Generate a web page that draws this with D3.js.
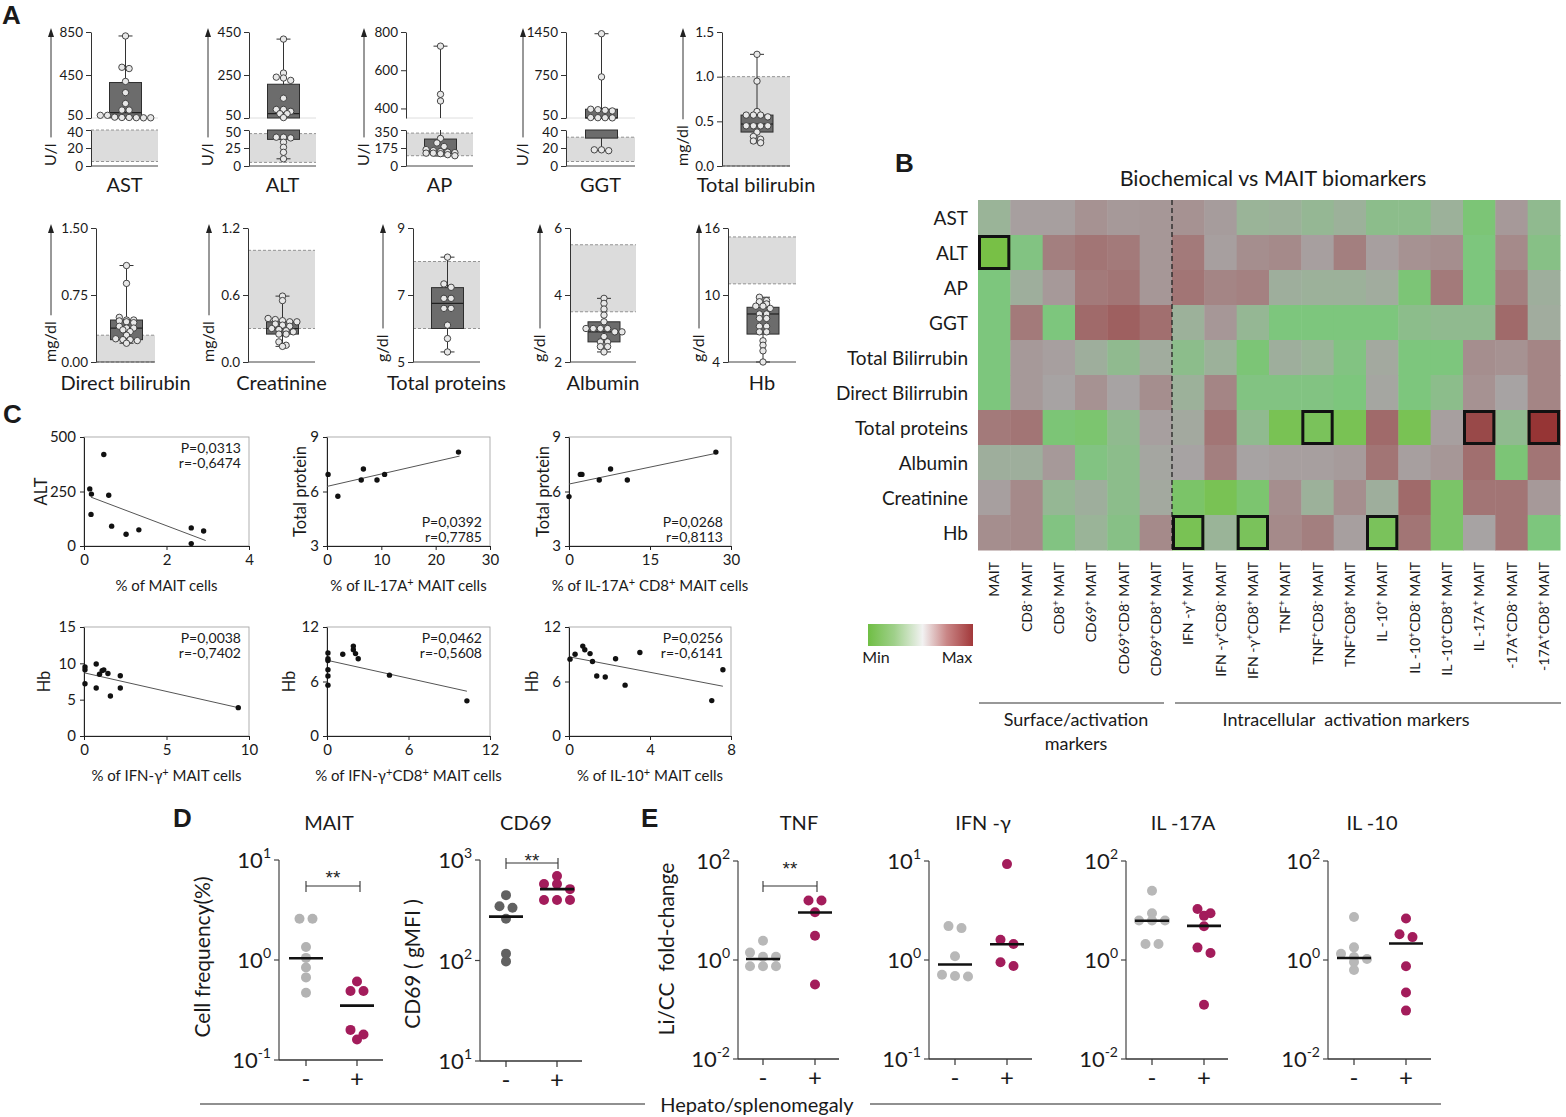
<!DOCTYPE html>
<html><head><meta charset="utf-8">
<script src="https://cdn.jsdelivr.net/npm/d3@7"></script>
<style>
body{margin:0;background:#fff;}
svg text{font-family:Lato,"Open Sans",sans-serif;fill:#1a1a1a;}
</style></head><body>
<svg id="fig" width="1566" height="1117" xmlns="http://www.w3.org/2000/svg"></svg>
<script>
// ================= DATA =================
// Panel A
const biochemNames = ["AST","ALT","AP","GGT","Total bilirubin","Direct bilirubin","Creatinine","Total proteins","Albumin","Hb"];
const biochemUnits = ["U/l","U/l","U/l","U/l","mg/dl","mg/dl","mg/dl","g/dl","g/dl","g/dl"];
const biochemUpperDomain = [[50,850],[50,450],[350,800],[50,1450],null,null,null,null,null,null];
const biochemUpperTicks = [[50,450,850],[50,250,450],[400,600,800],[50,750,1450],null,null,null,null,null,null];
const biochemLowerDomain = [[0,40],[0,50],[0,350],[0,40],[0,1.5],[0,1.5],[0,1.2],[5,9],[2,6],[4,16]];
const biochemLowerTicks = [[0,20,40],[0,25,50],[0,175,350],[0,20,40],[0,0.5,1,1.5],[0,0.75,1.5],[0,0.6,1.2],[5,7,9],[2,4,6],[4,10,16]];
const biochemTickFormat = ["d","d","d","d",".1f",".2f",".1f","d","d","d"];
const biochemRefRange = [[5,40],[5,45],[100,320],[5,32],[0,1],[0,0.3],[0.3,1.0],[6,8],[3.5,5.5],[11,15.2]];
// min, q1, median, q3, max
const biochemBox = [
  [50,52,100,380,813],
  [10,37,70,207,417],
  [97,120,135,262,726],
  [17,31,52,193,1422],
  [0.26,0.38,0.47,0.57,1.25],
  [0.21,0.25,0.38,0.47,1.08],
  [0.14,0.25,0.30,0.36,0.59],
  [5.3,6.0,6.75,7.22,8.13],
  [2.3,2.6,2.9,3.2,3.9],
  [4.0,6.5,8.3,8.9,9.8]];
const biochemValues = [
  [813,522,510,390,286,185,124,124,75,75,58,55,55,53,52,52],
  [417,259,240,236,225,142,90,90,81,70,70,52,40,40,39,33,26,19,10],
  [726,474,439,268,224,190,160,150,140,135,130,125,125,120,110,100],
  [1422,719,193,185,175,165,58,55,55,52,18,18,17],
  [1.25,0.95,0.61,0.57,0.57,0.57,0.55,0.45,0.45,0.45,0.45,0.38,0.33,0.30,0.28,0.26],
  [1.08,0.88,0.50,0.47,0.47,0.46,0.45,0.44,0.40,0.38,0.38,0.36,0.34,0.30,0.26,0.25,0.25,0.24,0.21],
  [0.59,0.55,0.39,0.38,0.37,0.36,0.36,0.34,0.33,0.32,0.30,0.29,0.28,0.27,0.25,0.25,0.18,0.15,0.14],
  [8.13,7.33,7.23,6.9,6.9,6.6,6.6,6.1,5.7,5.3],
  [3.9,3.75,3.58,3.4,3.2,3.0,3.0,3.0,3.0,2.9,2.9,2.76,2.6,2.6,2.46,2.46,2.3],
  [9.8,9.5,9.4,9.2,9.0,9.0,8.8,8.3,8.3,7.9,7.9,7.2,7.2,6.7,6.7,5.9,5.5,5.0,4.0]];

// Panel B
const heatTitle = "Biochemical vs MAIT biomarkers";
const heatRows = ["AST","ALT","AP","GGT","Total Bilirrubin","Direct Bilirrubin","Total proteins","Albumin","Creatinine","Hb"];
const heatCols = ["MAIT","CD8{-} MAIT","CD8{+} MAIT","CD69{+} MAIT","CD69{+}CD8{-} MAIT","CD69{+}CD8{+} MAIT",
  "IFN -γ{+} MAIT","IFN -γ{+}CD8{-} MAIT","IFN -γ{+}CD8{+} MAIT","TNF{+} MAIT","TNF{+}CD8{-} MAIT","TNF{+}CD8{+} MAIT",
  "IL -10{+} MAIT","IL -10{+}CD8{-} MAIT","IL -10{+}CD8{+} MAIT","IL -17A{+} MAIT","-17A{+}CD8{-} MAIT","-17A{+}CD8{+} MAIT"];
const heatValues = [
  [-0.3,0.05,0.05,0.2,0.12,0.15,0.2,0.08,-0.3,-0.25,-0.35,-0.25,-0.45,-0.45,-0.25,-0.65,0.12,-0.4],
  [-1.0,-0.55,0.4,0.5,0.45,0.15,0.45,0.05,0.25,0.3,0.05,0.4,0.05,0.2,0.25,-0.6,0.3,-0.5],
  [-0.6,-0.2,0.12,0.45,0.5,0.15,0.5,0.35,0.38,-0.2,-0.25,-0.25,-0.15,-0.65,0.45,-0.6,0.4,-0.2],
  [-0.6,0.45,-0.6,0.6,0.68,0.55,-0.25,0.15,-0.35,-0.6,-0.6,-0.6,-0.6,-0.45,-0.4,-0.4,0.6,-0.15],
  [-0.6,0.12,0.05,-0.2,-0.4,-0.15,-0.45,-0.25,-0.65,-0.2,-0.3,-0.55,-0.1,-0.6,-0.6,0.25,0.2,0.35],
  [-0.6,0.12,0.0,0.2,0.0,0.25,-0.25,0.35,-0.55,-0.55,-0.55,-0.6,-0.05,-0.6,-0.45,0.2,0.0,0.35],
  [0.45,0.5,-0.65,-0.7,-0.4,0.05,-0.1,0.5,-0.4,-0.9,-0.85,-0.9,0.6,-0.9,0.05,0.85,-0.4,1.0],
  [-0.2,-0.2,0.12,-0.55,-0.45,-0.05,0.0,0.4,0.0,0.05,0.05,0.1,0.5,0.05,0.15,0.55,-0.65,0.5],
  [0.05,0.3,-0.35,-0.2,-0.45,-0.1,-0.75,-0.9,-0.7,0.25,-0.25,0.25,-0.2,0.6,-0.75,0.5,0.5,0.12],
  [0.25,0.3,-0.55,-0.3,-0.5,0.3,-0.9,-0.3,-0.85,0.3,0.4,0.05,-0.85,0.5,-0.75,0.0,0.5,-0.6]];
const heatHighlights = [[1,0],[6,10],[6,15],[6,17],[9,6],[9,8],[9,12]]; // [row, col]
const heatGroups = [["Surface/activation","markers"],["Intracellular  activation markers"]];

// Panel C
const corrYLabels = ["ALT","Total protein","Total protein","Hb","Hb","Hb"];
const corrXLabels = ["% of MAIT cells","% of IL-17A{+} MAIT cells","% of IL-17A{+} CD8{+} MAIT cells",
  "% of IFN-γ{+} MAIT cells","% of IFN-γ{+}CD8{+} MAIT cells","% of IL-10{+} MAIT cells"];
const corrXDomains = [[0,4],[0,30],[0,30],[0,10],[0,12],[0,8]];
const corrXTicks = [[0,2,4],[0,10,20,30],[0,15,30],[0,5,10],[0,6,12],[0,4,8]];
const corrYDomains = [[0,500],[3,9],[3,9],[0,15],[0,12],[0,12]];
const corrYTicks = [[0,250,500],[3,6,9],[3,6,9],[0,5,10,15],[0,6,12],[0,6,12]];
const corrX = [
  [0.14,0.18,0.17,0.48,0.6,0.67,1.02,1.33,2.6,2.6,2.9],
  [0.2,2.0,6.3,6.7,9.2,10.6,24.2],
  [0,2.1,2.4,5.6,7.7,10.8,27.2],
  [0.06,0.06,0.06,0.74,0.74,0.94,1.1,1.2,1.45,1.6,2.2,2.2,9.35],
  [0.07,0.07,0.07,0.07,0.07,0.07,1.16,1.94,1.94,2.1,2.3,4.6,10.3],
  [0.05,0.3,0.68,0.78,1.04,1.16,1.37,1.79,2.3,2.77,3.5,7.05,7.6]];
const corrY = [
  [262,238,145,420,233,91,54,74,83,11,69],
  [6.94,5.74,6.63,7.24,6.63,6.94,8.17],
  [5.72,6.94,6.94,6.63,7.24,6.63,8.17],
  [9.5,9.1,7.2,9.9,6.6,8.5,9.0,9.1,8.6,5.5,8.3,6.6,3.9],
  [9.14,8.5,8.3,7.3,6.6,5.6,9.0,9.9,9.5,9.07,8.5,6.7,3.87],
  [8.46,9.0,9.9,9.5,9.07,8.2,6.6,6.5,8.5,5.6,9.2,3.9,7.3]];
const corrFit = [
  [[0.17,224],[2.95,25]],
  [[0,6.28],[24.4,7.95]],
  [[0,6.41],[27.2,8.1]],
  [[0,8.7],[9.35,3.9]],
  [[0,8.34],[10.3,4.93]],
  [[0.05,8.7],[7.6,5.48]]];
const corrP = ["P=0,0313","P=0,0392","P=0,0268","P=0,0038","P=0,0462","P=0,0256"];
const corrR = ["r=-0,6474","r=0,7785","r=0,8113","r=-0,7402","r=-0,5608","r=-0,6141"];

// Panels D & E
const dotTitles = ["MAIT","CD69","TNF","IFN -γ","IL -17A","IL -10"];
const dotYLabels = ["Cell frequency(%)","CD69 ( gMFI )","Li/CC\u00a0 fold-change"];
const dotDomains = [[0.1,10],[10,1000],[0.01,100],[0.1,10],[0.01,100],[0.01,100]];
const dotTickExps = [[-1,0,1],[1,2,3],[-2,0,2],[-1,0,1],[-2,0,2],[-2,0,2]];
const dotGroups = ["-","+"];
const dotNeg = [[2.59,2.59,1.35,1.05,0.84,0.67,0.47],[447,346,335,260,117,98],[2.44,1.41,1.16,1.16,0.75,0.75,0.75],
  [2.1,2.2,1.09,0.68,0.71,0.69],[25,8.8,6.3,6.3,6.3,2.1,2.1],[7.4,1.8,1.34,1.15,1.05,0.91,0.63]];
const dotPos = [[0.61,0.49,0.49,0.20,0.18,0.16],[692,577,577,513,400,400,400],[15.9,15.9,9.2,3.1,0.32],
  [9.3,1.45,1.6,0.87,0.95],[10.7,7.8,8.8,4.8,1.78,1.39,0.125],[6.9,2.9,3.3,0.75,0.22,0.095]];
const dotMedNeg = [1.04,273,1.05,0.9,6.2,1.1];
const dotMedPos = [0.35,513,9.1,1.44,4.9,2.15];
const dotSignif = ["**","**","**","","",""];
const bottomLabel = "Hepato/splenomegaly";

// ================= DRAWING =================
const svg = d3.select("#fig");

function richText(sel, str, supSize, up) {
  const parts = str.split(/(\{[^}]*\})/).filter(s => s.length);
  let raised = false;
  parts.forEach(p => {
    if (p[0] === "{") {
      sel.append("tspan").attr("font-size", supSize).attr("dy", raised ? 0 : -up).text(p.slice(1, -1));
      raised = true;
    } else {
      const t = sel.append("tspan").text(p);
      if (raised) { t.attr("dy", up); raised = false; }
    }
  });
  return sel;
}

function groupOffsets(ys, thresh, spacing) {
  const idx = d3.range(ys.length).sort((a, b) => ys[a] - ys[b]);
  const off = new Array(ys.length).fill(0);
  let g = [];
  const flush = () => { g.forEach((i, k) => off[i] = (k - (g.length - 1) / 2) * spacing); g = []; };
  idx.forEach(i => { if (g.length && ys[i] - ys[g[0]] > thresh) flush(); g.push(i); });
  flush();
  return off;
}

// Panel letters
[["A",2,24],["B",895,172],["C",3,423],["D",173,827],["E",641,827]].forEach(([t,x,y]) =>
  svg.append("text").attr("x",x).attr("y",y).attr("font-size",26).attr("font-weight","bold")
    .style("font-family","'Liberation Sans',Arial,sans-serif").text(t));

// ---------- Panel A ----------
const aAxisX = [91,249,406,566,722,96,248,413,570,728];
const aRight = [158,316,473,635,790,155,315,480,636,796];
const aArrowX = [51,208,364,523,683,51,209,383,540,699];

biochemNames.forEach((name, i) => {
  const top = i < 5 ? 32 : 228, bot = i < 5 ? 166 : 362;
  const ax = aAxisX[i], rx = aRight[i], cx = (ax + rx) / 2 + 1;
  const g = svg.append("g");
  const up = biochemUpperDomain[i], lo = biochemLowerDomain[i];
  let sl, su = null, yOf;
  if (up) {
    su = d3.scaleLinear().domain(up).range([top + 86, top]);
    sl = d3.scaleLinear().domain(lo).range([bot, top + 98]);
    yOf = v => v >= up[0] ? su(v) : sl(Math.min(v, lo[1]));
  } else {
    sl = d3.scaleLinear().domain(lo).range([bot, top]);
    yOf = v => sl(v);
  }
  const segs = (a, b) => {
    if (!up) return [[sl(a), sl(b)]];
    const s = [];
    if (b >= up[0]) s.push([su(Math.max(a, up[0])), su(b)]);
    if (a < up[0]) s.push([sl(a), sl(Math.min(b, lo[1]))]);
    return s;
  };
  const rr = biochemRefRange[i];
  const yb1 = sl(rr[1]), yb0 = sl(rr[0]);
  g.append("rect").attr("x", ax).attr("y", yb1).attr("width", rx - ax).attr("height", yb0 - yb1).attr("fill", "#dcdcdc");
  [yb1, yb0].forEach(yy => g.append("line").attr("x1", ax).attr("x2", rx).attr("y1", yy).attr("y2", yy)
    .attr("stroke", "#8a8a8a").attr("stroke-width", 0.9).attr("stroke-dasharray", "3,2"));
  if (up) g.append("line").attr("x1", ax).attr("x2", rx).attr("y1", top + 86).attr("y2", top + 86)
    .attr("stroke", "#dedede").attr("stroke-width", 1);
  const fmt = d3.format(biochemTickFormat[i]);
  const styleAxis = (sel, nudge) => {
    sel.selectAll("path").attr("stroke", "#333");
    sel.selectAll("line").attr("stroke", "#333");
    sel.selectAll("text").attr("font-size", 13.5).attr("fill", "#1a1a1a").style("font-family", "Lato,sans-serif");
    if (nudge) sel.selectAll(".tick").filter(d => d === nudge.v).select("text").attr("y", nudge.dy);
  };
  g.append("g").attr("transform", `translate(${ax},0)`)
    .call(d3.axisLeft(sl).tickValues(biochemLowerTicks[i]).tickFormat(fmt).tickSize(5).tickSizeOuter(0).tickPadding(3))
    .call(sel => styleAxis(sel, up ? {v: lo[1], dy: 2.5} : null));
  if (up) g.append("g").attr("transform", `translate(${ax},0)`)
    .call(d3.axisLeft(su).tickValues(biochemUpperTicks[i]).tickFormat(fmt).tickSize(5).tickSizeOuter(0).tickPadding(3))
    .call(sel => styleAxis(sel, {v: up[0], dy: -2.5}));
  g.append("line").attr("x1", ax).attr("x2", rx).attr("y1", bot).attr("y2", bot).attr("stroke", "#444").attr("stroke-width", 1);
  const b = biochemBox[i];
  segs(b[0], b[4]).forEach(([y1, y2]) => g.append("line").attr("x1", cx).attr("x2", cx).attr("y1", y1).attr("y2", y2)
    .attr("stroke", "#333").attr("stroke-width", 1));
  [b[0], b[4]].forEach(v => g.append("line").attr("x1", cx - 7).attr("x2", cx + 7).attr("y1", yOf(v)).attr("y2", yOf(v))
    .attr("stroke", "#333").attr("stroke-width", 1));
  segs(b[1], b[3]).forEach(([y1, y2]) => g.append("rect").attr("x", cx - 16).attr("width", 32)
    .attr("y", Math.min(y1, y2)).attr("height", Math.abs(y1 - y2)).attr("fill", "#6c6c6c").attr("stroke", "#2e2e2e").attr("stroke-width", 1));
  g.append("line").attr("x1", cx - 16).attr("x2", cx + 16).attr("y1", yOf(b[2])).attr("y2", yOf(b[2])).attr("stroke", "#222").attr("stroke-width", 1.2);
  const ys = biochemValues[i].map(yOf);
  const offs = groupOffsets(ys, 3.5, 7.2);
  g.selectAll("circle.pt").data(biochemValues[i]).join("circle").attr("class", "pt")
    .attr("cx", (d, k) => cx + offs[k]).attr("cy", (d, k) => ys[k]).attr("r", 3.2)
    .attr("fill", "#e8e8e8").attr("stroke", "#333").attr("stroke-width", 0.9);
  g.append("text").attr("x", (ax + rx) / 2).attr("y", i < 5 ? 192 : 390).attr("text-anchor", "middle").attr("font-size", 20).text(name);
  const ut = g.append("text").attr("transform", `translate(${aArrowX[i] + 5},${bot}) rotate(-90)`).attr("font-size", 16).text(biochemUnits[i]);
  const len = ut.node().getComputedTextLength();
  const ay2 = bot - len - 6, ay1 = top - 2;
  g.append("line").attr("x1", aArrowX[i]).attr("x2", aArrowX[i]).attr("y1", ay1 + 6).attr("y2", ay2).attr("stroke", "#333").attr("stroke-width", 1);
  g.append("path").attr("d", `M${aArrowX[i] - 3},${ay1 + 7}L${aArrowX[i]},${ay1 - 2}L${aArrowX[i] + 3},${ay1 + 7}Z`).attr("fill", "#222");
});

// ---------- Panel B ----------
{
  const g = svg.append("g");
  const hx = d3.scaleBand().domain(d3.range(heatCols.length)).range([978, 1560]);
  const hy = d3.scaleBand().domain(d3.range(heatRows.length)).range([200, 550]);
  const col = d3.scaleLinear().domain([-1, -0.6, -0.3, 0, 0.3, 0.6, 0.8, 1])
    .range(["#78c046", "#7dc67d", "#9ab498", "#a7a3a3", "#a58a8a", "#a06a6a", "#9a5050", "#963535"]);
  heatValues.forEach((row, r) => row.forEach((v, c) =>
    g.append("rect").attr("x", hx(c)).attr("y", hy(r)).attr("width", hx.bandwidth() + 0.5).attr("height", hy.bandwidth() + 0.5).attr("fill", col(v))));
  g.append("line").attr("x1", hx(6)).attr("x2", hx(6)).attr("y1", 200).attr("y2", 550)
    .attr("stroke", "#222").attr("stroke-width", 1.3).attr("stroke-dasharray", "5,3");
  heatHighlights.forEach(([r, c]) => g.append("rect").attr("x", hx(c) + 1.5).attr("y", hy(r) + 1.5)
    .attr("width", hx.bandwidth() - 3).attr("height", hy.bandwidth() - 3).attr("fill", "none").attr("stroke", "#111").attr("stroke-width", 3));
  heatRows.forEach((t, r) => g.append("text").attr("x", 968).attr("y", hy(r) + hy.bandwidth() / 2 + 7)
    .attr("text-anchor", "end").attr("font-size", 19).text(t));
  heatCols.forEach((t, c) => {
    const tx = g.append("text").attr("transform", `translate(${hx(c) + hx.bandwidth() / 2 + 5},562) rotate(-90)`)
      .attr("text-anchor", "end").attr("font-size", 14);
    richText(tx, t, 10, 5);
  });
  g.append("text").attr("x", 1273).attr("y", 186).attr("text-anchor", "middle").attr("font-size", 21.5).text(heatTitle);
  const defs = svg.append("defs");
  const lg = defs.append("linearGradient").attr("id", "lg");
  [["0%", "#6fbe44"], ["25%", "#9fd08a"], ["52%", "#f2f2f2"], ["75%", "#c98686"], ["100%", "#a2383a"]]
    .forEach(([o, c]) => lg.append("stop").attr("offset", o).attr("stop-color", c));
  g.append("rect").attr("x", 868).attr("y", 624).attr("width", 105).attr("height", 22).attr("fill", "url(#lg)");
  g.append("text").attr("x", 876).attr("y", 663).attr("text-anchor", "middle").attr("font-size", 16).text("Min");
  g.append("text").attr("x", 957).attr("y", 663).attr("text-anchor", "middle").attr("font-size", 16).text("Max");
  const gl = [[979, 1164], [1175, 1561]];
  heatGroups.forEach((lines, k) => {
    g.append("line").attr("x1", gl[k][0]).attr("x2", gl[k][1]).attr("y1", 703).attr("y2", 703).attr("stroke", "#333").attr("stroke-width", 1.2);
    const cxx = k === 0 ? 1076 : 1346;
    lines.forEach((ln, j) => g.append("text").attr("x", cxx).attr("y", 726 + j * 24).attr("text-anchor", "middle")
      .attr("font-size", 18).style("white-space", "pre").text(ln));
  });
}

// ---------- Panel C ----------
const cX = [[84,249],[327,490],[569,731],[84,249],[327,490],[569,731]];
const cYr = [[437,546],[437,546],[437,546],[627,736],[627,736],[627,736]];
const cYlabX = [41,300,543,44,289,532];
corrYLabels.forEach((lab, i) => {
  const g = svg.append("g");
  const x = d3.scaleLinear().domain(corrXDomains[i]).range(cX[i]);
  const y = d3.scaleLinear().domain(corrYDomains[i]).range([cYr[i][1], cYr[i][0]]);
  g.append("rect").attr("x", cX[i][0]).attr("y", cYr[i][0]).attr("width", cX[i][1] - cX[i][0]).attr("height", cYr[i][1] - cYr[i][0])
    .attr("fill", "none").attr("stroke", "#a6a6a6").attr("stroke-width", 0.9);
  const st = sel => {
    sel.selectAll("path").attr("stroke", "#222");
    sel.selectAll("line").attr("stroke", "#222");
    sel.selectAll("text").attr("font-size", 15).attr("fill", "#1a1a1a").style("font-family", "Lato,sans-serif");
  };
  g.append("g").attr("transform", `translate(0,${cYr[i][1]})`)
    .call(d3.axisBottom(x).tickValues(corrXTicks[i]).tickFormat(d3.format("d")).tickSize(4).tickSizeOuter(0).tickPadding(4)).call(st);
  g.append("g").attr("transform", `translate(${cX[i][0]},0)`)
    .call(d3.axisLeft(y).tickValues(corrYTicks[i]).tickFormat(d3.format("d")).tickSize(4).tickSizeOuter(0).tickPadding(4)).call(st);
  const f = corrFit[i];
  g.append("line").attr("x1", x(f[0][0])).attr("y1", y(f[0][1])).attr("x2", x(f[1][0])).attr("y2", y(f[1][1]))
    .attr("stroke", "#555").attr("stroke-width", 1);
  g.selectAll("circle").data(corrX[i]).join("circle").attr("cx", d => x(d)).attr("cy", (d, k) => y(corrY[i][k]))
    .attr("r", 2.7).attr("fill", "#111");
  const bottomStats = (i === 1 || i === 2);
  const py = bottomStats ? cYr[i][1] - 19 : cYr[i][0] + 16;
  g.append("text").attr("x", cX[i][1] - 8).attr("y", py).attr("text-anchor", "end").attr("font-size", 14).text(corrP[i]);
  g.append("text").attr("x", cX[i][1] - 8).attr("y", py + 14.5).attr("text-anchor", "end").attr("font-size", 14).text(corrR[i]);
  g.append("text").attr("transform", `translate(${cYlabX[i]},${(cYr[i][0] + cYr[i][1]) / 2}) rotate(-90)`)
    .attr("text-anchor", "middle").attr("dy", "0.35em").attr("font-size", 16.5).text(lab);
  const xt = g.append("text").attr("x", (cX[i][0] + cX[i][1]) / 2).attr("y", cYr[i][1] + 45).attr("text-anchor", "middle").attr("font-size", 15);
  richText(xt, corrXLabels[i], 11, 5);
});

// ---------- Panels D & E ----------
const dAx = [279,480,738,929,1126,1328];
const dRx = [383,582,839,1032,1228,1431];
const dTop = [860,860,861,861,861,861];
const dBot = [1060,1061,1059,1059,1059,1059];
const dCats = [[306,357],[506,557],[763,815],[955,1007],[1152,1204],[1354,1406]];
const dTitleX = [329,526,799,983,1183,1372];
const dBr = [{x1:306,x2:360,y:886,sy:872},{x1:506,x2:558,y:863,sy:855},{x1:763,x2:817,y:886,sy:863}];
const negColors = ["#b3b3b3","#616161","#b8b8b8","#b8b8b8","#b8b8b8","#b8b8b8"];
const POS = "#a31c5b";
dotTitles.forEach((title, i) => {
  const g = svg.append("g");
  const y = d3.scaleLog().domain(dotDomains[i]).range([dBot[i], dTop[i]]);
  g.append("line").attr("x1", dAx[i]).attr("x2", dAx[i]).attr("y1", dTop[i]).attr("y2", dBot[i]).attr("stroke", "#444").attr("stroke-width", 1.2);
  g.append("line").attr("x1", dAx[i]).attr("x2", dRx[i]).attr("y1", dBot[i]).attr("y2", dBot[i]).attr("stroke", "#333").attr("stroke-width", 1.3);
  dotTickExps[i].forEach(e => {
    const yy = y(Math.pow(10, e));
    g.append("line").attr("x1", dAx[i] - 5).attr("x2", dAx[i]).attr("y1", yy).attr("y2", yy).attr("stroke", "#444").attr("stroke-width", 1.2);
    const t = g.append("text").attr("x", dAx[i] - 8).attr("y", yy + 8).attr("text-anchor", "end").attr("font-size", 22);
    t.append("tspan").text("10");
    t.append("tspan").attr("font-size", 14).attr("dy", -10).text(String(e));
  });
  dCats[i].forEach((cx, k) => {
    g.append("line").attr("x1", cx).attr("x2", cx).attr("y1", dBot[i]).attr("y2", dBot[i] + 6).attr("stroke", "#333").attr("stroke-width", 1.2);
    g.append("text").attr("x", cx).attr("y", dBot[i] + 27).attr("text-anchor", "middle").attr("font-size", 24).text(dotGroups[k]);
  });
  [[dotNeg[i], negColors[i], dotMedNeg[i]], [dotPos[i], POS, dotMedPos[i]]].forEach(([vals, c, med], k) => {
    const cx = dCats[i][k];
    const ys = vals.map(v => y(v));
    const offs = groupOffsets(ys, 6, 13);
    g.selectAll(null).data(vals).join("circle").attr("cx", (d, j) => cx + offs[j]).attr("cy", (d, j) => ys[j])
      .attr("r", 5).attr("fill", c);
    g.append("line").attr("x1", cx - 17).attr("x2", cx + 17).attr("y1", y(med)).attr("y2", y(med)).attr("stroke", "#111").attr("stroke-width", 2.6);
  });
  g.append("text").attr("x", dTitleX[i]).attr("y", 830).attr("text-anchor", "middle").attr("font-size", 20).text(title);
  if (dotSignif[i]) {
    const b = dBr[i];
    g.append("path").attr("d", `M${b.x1},${b.y - 5}V${b.y + 6}M${b.x1},${b.y}H${b.x2}M${b.x2},${b.y - 5}V${b.y + 6}`)
      .attr("stroke", "#333").attr("fill", "none").attr("stroke-width", 1.1);
    g.append("text").attr("x", (b.x1 + b.x2) / 2).attr("y", b.sy + 12).attr("text-anchor", "middle").attr("font-size", 19)
      .style("font-family", "'Liberation Sans',Arial,sans-serif").style("fill", "#222").text(dotSignif[i]);
  }
});
[[203, 957], [413, 964], [667, 949]].forEach(([x, yc], k) =>
  svg.append("text").attr("transform", `translate(${x},${yc}) rotate(-90)`).attr("text-anchor", "middle").attr("dy", "0.35em")
    .attr("font-size", 21).style("white-space", "pre").text(dotYLabels[k]));
svg.append("line").attr("x1", 200).attr("x2", 645).attr("y1", 1104).attr("y2", 1104).attr("stroke", "#222").attr("stroke-width", 1.2);
svg.append("line").attr("x1", 870).attr("x2", 1441).attr("y1", 1104).attr("y2", 1104).attr("stroke", "#222").attr("stroke-width", 1.2);
svg.append("text").attr("x", 757).attr("y", 1112).attr("text-anchor", "middle").attr("font-size", 20).text(bottomLabel);
</script>
</body></html>
